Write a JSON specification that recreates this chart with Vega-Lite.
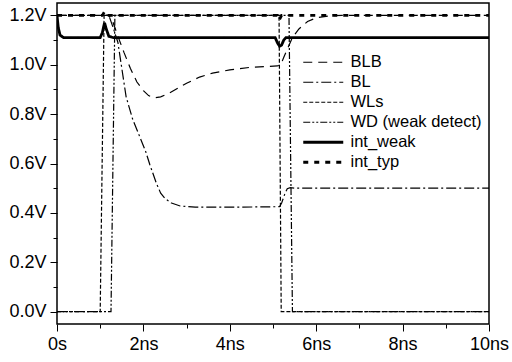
{
  "$schema": "https://vega.github.io/schema/vega-lite/v6.json",
  "width": 432,
  "height": 321,
  "autosize": {"type": "none"},
  "padding": {"left": 57, "top": 3, "right": 23, "bottom": 38},
  "background": "white",
  "config": {
    "view": {"stroke": "black", "strokeWidth": 1.5},
    "font": "Liberation Sans",
    "axis": {"labelFont": "Liberation Sans", "labelFontSize": 18, "labelColor": "black", "tickColor": "black", "tickWidth": 1, "domain": false, "grid": false, "title": null, "labelFlush": false}
  },
  "data": {"values": [
    {"s": "BLB", "t": 0, "v": 1.2}, {"s": "BLB", "t": 1.2, "v": 1.2}, {"s": "BLB", "t": 1.28, "v": 1.18}, {"s": "BLB", "t": 1.4, "v": 1.12}, {"s": "BLB", "t": 1.55, "v": 1.05}, {"s": "BLB", "t": 1.7, "v": 0.985}, {"s": "BLB", "t": 1.85, "v": 0.93}, {"s": "BLB", "t": 2.0, "v": 0.895}, {"s": "BLB", "t": 2.12, "v": 0.875}, {"s": "BLB", "t": 2.25, "v": 0.866}, {"s": "BLB", "t": 2.4, "v": 0.87}, {"s": "BLB", "t": 2.6, "v": 0.885}, {"s": "BLB", "t": 2.8, "v": 0.905}, {"s": "BLB", "t": 3.0, "v": 0.925}, {"s": "BLB", "t": 3.3, "v": 0.95}, {"s": "BLB", "t": 3.6, "v": 0.966}, {"s": "BLB", "t": 4.0, "v": 0.979}, {"s": "BLB", "t": 4.5, "v": 0.99}, {"s": "BLB", "t": 5.1, "v": 0.995}, {"s": "BLB", "t": 5.18, "v": 1.0}, {"s": "BLB", "t": 5.25, "v": 1.03}, {"s": "BLB", "t": 5.35, "v": 1.07}, {"s": "BLB", "t": 5.45, "v": 1.11}, {"s": "BLB", "t": 5.6, "v": 1.145}, {"s": "BLB", "t": 5.8, "v": 1.175}, {"s": "BLB", "t": 6.0, "v": 1.19}, {"s": "BLB", "t": 6.3, "v": 1.198}, {"s": "BLB", "t": 6.6, "v": 1.2}, {"s": "BLB", "t": 10, "v": 1.2},
    {"s": "BL", "t": 0, "v": 1.2}, {"s": "BL", "t": 1.2, "v": 1.2}, {"s": "BL", "t": 1.3, "v": 1.15}, {"s": "BL", "t": 1.41, "v": 1.09}, {"s": "BL", "t": 1.6, "v": 0.87}, {"s": "BL", "t": 1.75, "v": 0.78}, {"s": "BL", "t": 1.9, "v": 0.715}, {"s": "BL", "t": 2.05, "v": 0.65}, {"s": "BL", "t": 2.15, "v": 0.595}, {"s": "BL", "t": 2.3, "v": 0.52}, {"s": "BL", "t": 2.4, "v": 0.48}, {"s": "BL", "t": 2.5, "v": 0.458}, {"s": "BL", "t": 2.65, "v": 0.44}, {"s": "BL", "t": 2.85, "v": 0.428}, {"s": "BL", "t": 3.2, "v": 0.423}, {"s": "BL", "t": 4.0, "v": 0.423}, {"s": "BL", "t": 5.15, "v": 0.425}, {"s": "BL", "t": 5.2, "v": 0.44}, {"s": "BL", "t": 5.27, "v": 0.475}, {"s": "BL", "t": 5.33, "v": 0.498}, {"s": "BL", "t": 5.4, "v": 0.502}, {"s": "BL", "t": 5.5, "v": 0.5}, {"s": "BL", "t": 10, "v": 0.5},
    {"s": "WLs", "t": 0, "v": 0}, {"s": "WLs", "t": 1.0, "v": 0}, {"s": "WLs", "t": 1.09, "v": 1.2}, {"s": "WLs", "t": 5.14, "v": 1.2}, {"s": "WLs", "t": 5.19, "v": 0}, {"s": "WLs", "t": 10, "v": 0},
    {"s": "WD (weak detect)", "t": 0, "v": 0}, {"s": "WD (weak detect)", "t": 1.25, "v": 0}, {"s": "WD (weak detect)", "t": 1.34, "v": 1.2}, {"s": "WD (weak detect)", "t": 5.37, "v": 1.2}, {"s": "WD (weak detect)", "t": 5.45, "v": 0}, {"s": "WD (weak detect)", "t": 10, "v": 0},
    {"s": "int_weak", "t": 0, "v": 1.2}, {"s": "int_weak", "t": 0.03, "v": 1.15}, {"s": "int_weak", "t": 0.07, "v": 1.12}, {"s": "int_weak", "t": 0.15, "v": 1.11}, {"s": "int_weak", "t": 1.0, "v": 1.11}, {"s": "int_weak", "t": 1.05, "v": 1.13}, {"s": "int_weak", "t": 1.1, "v": 1.17}, {"s": "int_weak", "t": 1.14, "v": 1.145}, {"s": "int_weak", "t": 1.2, "v": 1.115}, {"s": "int_weak", "t": 1.3, "v": 1.11}, {"s": "int_weak", "t": 5.05, "v": 1.11}, {"s": "int_weak", "t": 5.1, "v": 1.09}, {"s": "int_weak", "t": 5.15, "v": 1.075}, {"s": "int_weak", "t": 5.2, "v": 1.08}, {"s": "int_weak", "t": 5.25, "v": 1.1}, {"s": "int_weak", "t": 5.3, "v": 1.11}, {"s": "int_weak", "t": 10, "v": 1.11},
    {"s": "int_typ", "t": 0, "v": 1.2}, {"s": "int_typ", "t": 1.05, "v": 1.2}, {"s": "int_typ", "t": 1.1, "v": 1.215}, {"s": "int_typ", "t": 1.15, "v": 1.2}, {"s": "int_typ", "t": 5.1, "v": 1.2}, {"s": "int_typ", "t": 5.14, "v": 1.18}, {"s": "int_typ", "t": 5.2, "v": 1.2}, {"s": "int_typ", "t": 10, "v": 1.2}
  ]},
  "resolve": {"axis": {"x": "independent", "y": "independent"}},
  "layer": [
    {
      "mark": {"type": "line", "color": "black", "clip": true},
      "encoding": {
        "x": {"field": "t", "type": "quantitative", "scale": {"domain": [0, 10], "nice": false, "zero": false},
              "axis": {"orient": "bottom", "values": [0, 2, 4, 6, 8, 10], "labelExpr": "datum.value == 0 ? '0s' : datum.value + 'ns'", "tickSize": 7, "labelPadding": 4}},
        "y": {"field": "v", "type": "quantitative", "scale": {"domain": [-0.05, 1.25], "nice": false, "zero": false},
              "axis": {"orient": "left", "values": [0, 0.2, 0.4, 0.6, 0.8, 1.0, 1.2], "labelExpr": "format(datum.value, '.1f') + 'V'", "tickSize": 7, "labelPadding": 4}},
        "strokeDash": {"field": "s", "type": "nominal",
              "scale": {"domain": ["BLB", "BL", "WLs", "WD (weak detect)", "int_weak", "int_typ"], "range": [[9, 6], [10, 3, 2, 3], [4, 2], [7, 2, 2, 2, 2, 2], [1, 0], [5, 6]]},
              "legend": {"orient": "none", "legendX": 258, "legendY": 51, "title": null, "symbolType": "M-4,0H4", "symbolSize": 100, "symbolStrokeColor": "black", "symbolFillColor": "transparent", "symbolStrokeWidth": 1.2, "labelFontSize": 16.5, "labelFont": "Liberation Sans", "labelColor": "black", "labelOffset": 19, "rowPadding": 3, "padding": 0,
                "encode": {"symbols": {"update": {"strokeWidth": {"signal": "datum.value == 'int_weak' || datum.value == 'int_typ' ? 2.8 : 1.2"}}}}}},
        "strokeWidth": {"condition": {"test": "datum.s == 'int_weak' || datum.s == 'int_typ'", "value": 2.8}, "value": 1.2}
      }
    },
    {
      "mark": {"type": "line", "opacity": 0},
      "encoding": {
        "x": {"field": "t", "type": "quantitative", "axis": {"orient": "bottom", "values": [1, 3, 5, 7, 9], "labels": false, "tickSize": 4}},
        "y": {"field": "v", "type": "quantitative", "axis": {"orient": "left", "values": [0.1, 0.3, 0.5, 0.7, 0.9, 1.1], "labels": false, "tickSize": 4}},
        "detail": {"field": "s", "type": "nominal"}
      }
    }
  ]
}
